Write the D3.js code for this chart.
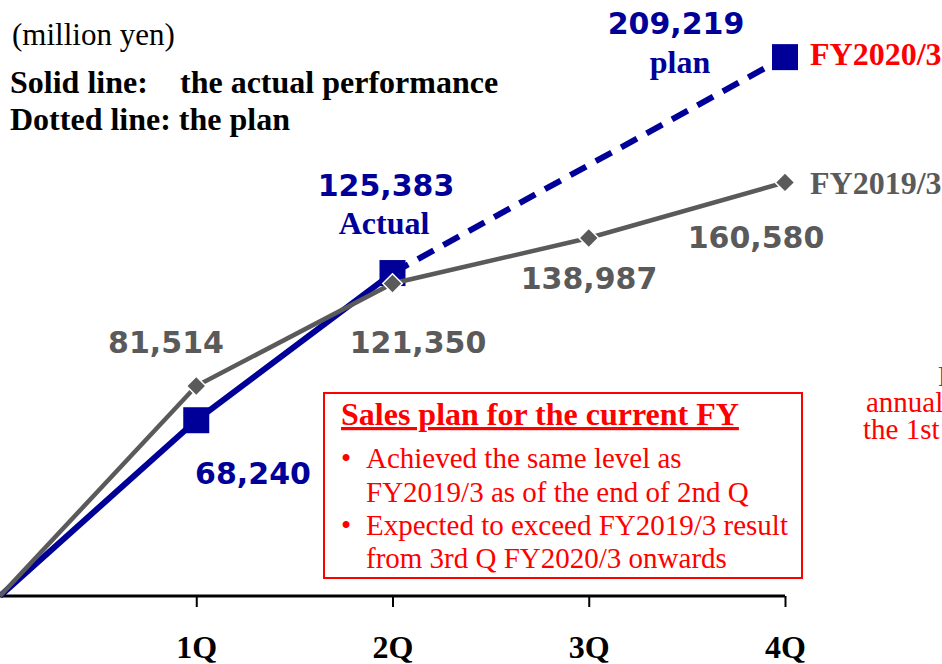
<!DOCTYPE html>
<html>
<head>
<meta charset="utf-8">
<script src="https://cdn.jsdelivr.net/npm/d3@7"></script>
<style>
  body { margin: 0; background: #fff; }
  svg { display: block; }
</style>
</head>
<body>
<div id="chart"></div>
<script>
// Datos
const quarters = ["1Q", "2Q", "3Q", "4Q"]
const fy2019 = [81514, 121350, 138987, 160580]
const fy2020Actual = [68240, 125383]      // 1Q, 2Q
const fy2020Plan = 209219                 // 4Q
const boxLines = [
  "Achieved the same level as",
  "FY2019/3 as of the end of 2nd Q",
  "Expected to exceed FY2019/3 result",
  "from 3rd Q FY2020/3 onwards"
]

const width = 942, height = 664
const blue = "#000099", gray = "#5a5a5a", red = "#ff0000"
const serif = "'Liberation Serif', 'Times New Roman', serif"
const sans = "'DejaVu Sans', Verdana, sans-serif"

const svg = d3.select("#chart").append("svg")
  .attr("width", width).attr("height", height)

// Escalas: índice 0 = origen, 1..4 = trimestres
const x = d3.scaleLinear().domain([0, 4]).range([0, 785])
const y = d3.scaleLinear().domain([0, 231400]).range([596, 0])

// Eje
const axis = svg.append("g")
  .attr("transform", `translate(0,${y(0)})`)
  .call(d3.axisBottom(x).tickValues([1, 2, 3, 4])
    .tickFormat(i => quarters[i - 1]).tickSize(11).tickPadding(28))
axis.select(".domain").attr("stroke", "#000").attr("stroke-width", 3)
  .attr("d", `M${x(0)},0H${x(4)}`)
axis.selectAll(".tick line").attr("stroke", "#000").attr("stroke-width", 2)
axis.selectAll(".tick text")
  .attr("font-family", serif).attr("font-weight", "bold")
  .attr("font-size", 32).attr("fill", "#000")

// Textos superiores izquierdos
svg.append("text").attr("x", 12).attr("y", 45)
  .attr("font-family", serif).attr("font-size", 31).text("(million yen)")
svg.append("text").attr("x", 10).attr("y", 93)
  .attr("font-family", serif).attr("font-size", 32).attr("font-weight", "bold")
  .text("Solid line:")
svg.append("text").attr("x", 180).attr("y", 93)
  .attr("font-family", serif).attr("font-size", 32).attr("font-weight", "bold")
  .text("the actual performance")
svg.append("text").attr("x", 10).attr("y", 130)
  .attr("font-family", serif).attr("font-size", 32).attr("font-weight", "bold")
  .text("Dotted line: the plan")

// FY2020/3 (azul)
const actualPts = [[0, 0], ...fy2020Actual.map((v, i) => [i + 1, v])]
const line = d3.line().x(d => x(d[0])).y(d => y(d[1]))
svg.append("path").datum(actualPts).attr("d", line)
  .attr("fill", "none").attr("stroke", blue).attr("stroke-width", 6)
svg.append("path").datum([[2, fy2020Actual[1]], [4, fy2020Plan]]).attr("d", line)
  .attr("fill", "none").attr("stroke", blue).attr("stroke-width", 6)
  .attr("stroke-dasharray", "18,11")
const sq = 26
svg.append("g").selectAll("rect")
  .data([...actualPts.slice(1), [4, fy2020Plan]])
  .join("rect")
  .attr("x", d => x(d[0]) - sq / 2).attr("y", d => y(d[1]) - sq / 2)
  .attr("width", sq).attr("height", sq).attr("fill", blue)

// FY2019/3 (gris)
const prevPts = [[0, 0], ...fy2019.map((v, i) => [i + 1, v])]
svg.append("path").datum(prevPts).attr("d", line)
  .attr("fill", "none").attr("stroke", gray).attr("stroke-width", 4.5)
svg.append("g").selectAll("path")
  .data(prevPts.slice(1))
  .join("path")
  .attr("d", d3.symbol(d3.symbolSquare, 190))
  .attr("transform", d => `translate(${x(d[0])},${y(d[1])}) rotate(45)`)
  .attr("fill", gray).attr("stroke", "#fff").attr("stroke-width", 1.5)

// Etiquetas de valores
const fmt = d3.format(",")
const valueLabels = [
  { v: fy2019[0], cx: 166, by: 353, c: gray },
  { v: fy2019[1], cx: 418, by: 353, c: gray },
  { v: fy2019[2], cx: 589, by: 289, c: gray },
  { v: fy2019[3], cx: 756, by: 248, c: gray },
  { v: fy2020Actual[0], cx: 253, by: 484, c: blue },
  { v: fy2020Actual[1], cx: 386, by: 196, c: blue },
  { v: fy2020Plan, cx: 676, by: 34, c: blue }
]
svg.append("g").selectAll("text").data(valueLabels).join("text")
  .attr("x", d => d.cx).attr("y", d => d.by)
  .attr("text-anchor", "middle").attr("font-family", sans)
  .attr("font-weight", "bold").attr("font-size", 30)
  .attr("fill", d => d.c).text(d => fmt(d.v))

svg.append("text").attr("x", 384).attr("y", 234).attr("text-anchor", "middle")
  .attr("font-family", serif).attr("font-weight", "bold").attr("font-size", 32)
  .attr("fill", blue).text("Actual")
svg.append("text").attr("x", 680).attr("y", 73).attr("text-anchor", "middle")
  .attr("font-family", serif).attr("font-weight", "bold").attr("font-size", 32)
  .attr("fill", blue).text("plan")

// Nombres de series
svg.append("text").attr("x", 810).attr("y", 65)
  .attr("font-family", serif).attr("font-weight", "bold").attr("font-size", 32)
  .attr("fill", red).text("FY2020/3")
svg.append("text").attr("x", 810).attr("y", 194)
  .attr("font-family", serif).attr("font-weight", "bold").attr("font-size", 32)
  .attr("fill", gray).text("FY2019/3")

// Caja de notas
svg.append("rect").attr("x", 324).attr("y", 393).attr("width", 478).attr("height", 185)
  .attr("fill", "#fff").attr("stroke", red).attr("stroke-width", 2)
svg.append("text").attr("x", 341).attr("y", 425)
  .attr("font-family", serif).attr("font-weight", "bold").attr("font-size", 32)
  .attr("fill", red).attr("text-decoration", "underline")
  .text("Sales plan for the current FY")
const lineY = [468, 502, 535, 568]
svg.append("g").selectAll("text").data(boxLines).join("text")
  .attr("x", 366).attr("y", (d, i) => lineY[i])
  .attr("font-family", serif).attr("font-size", 29).attr("fill", red)
  .text(d => d)
svg.append("g").selectAll("text").data([0, 2]).join("text")
  .attr("x", 341).attr("y", i => lineY[i])
  .attr("font-family", serif).attr("font-size", 29).attr("fill", red)
  .text("•")

// Texto cortado a la derecha
const sideText = [
  { t: "Progress", x: 938, y: 386 },
  { t: "annual plan", x: 866, y: 412 },
  { t: "the 1st half", x: 863, y: 439 }
]
svg.append("g").selectAll("text").data(sideText).join("text")
  .attr("x", d => d.x).attr("y", d => d.y)
  .attr("font-family", serif).attr("font-size", 29).attr("fill", red)
  .text(d => d.t)
</script>
</body>
</html>
